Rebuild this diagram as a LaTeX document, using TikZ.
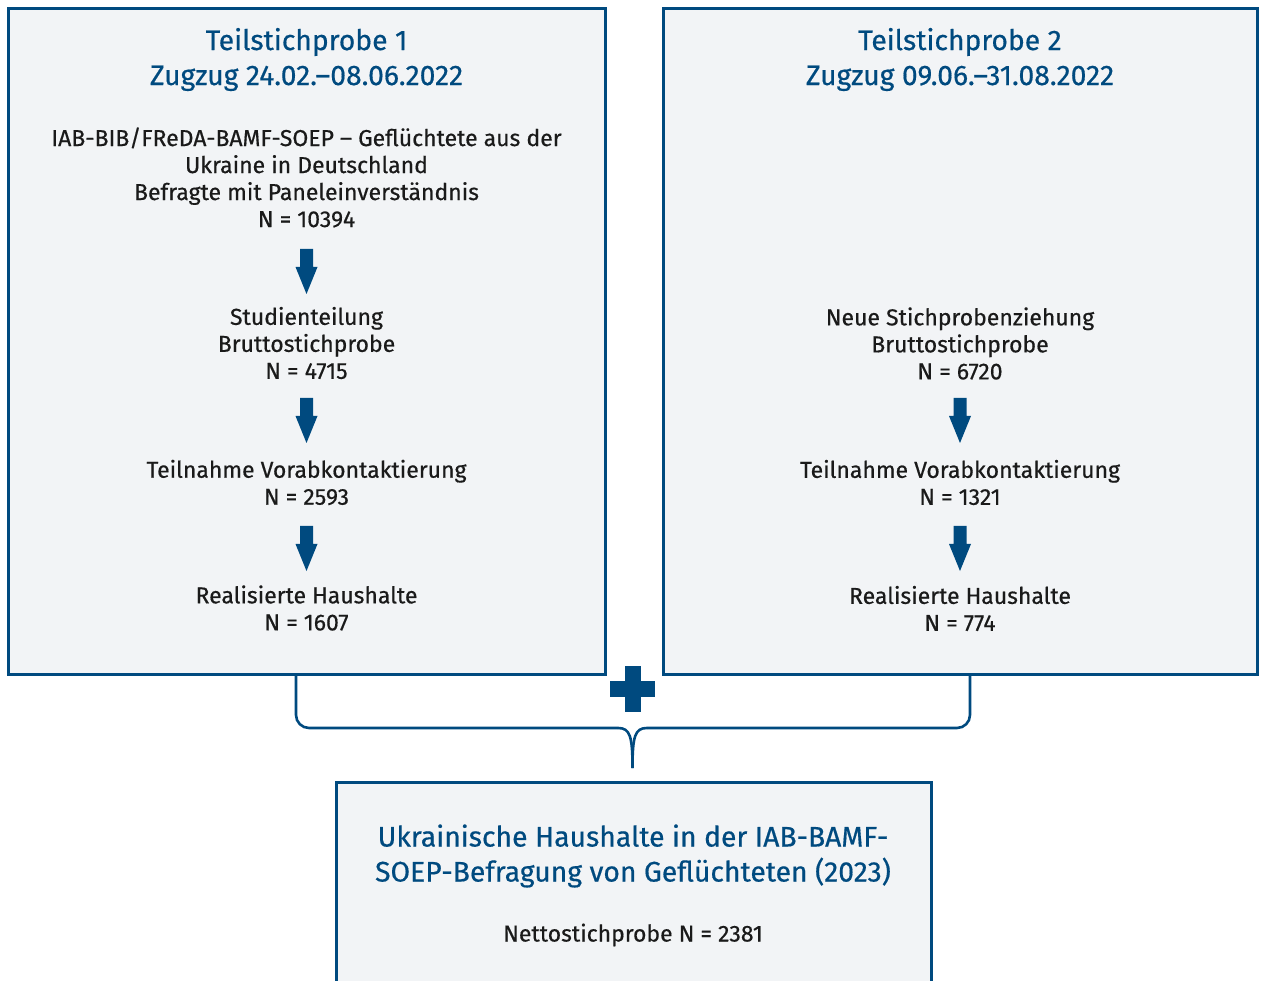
\documentclass[tikz,border=0pt]{standalone}
\usepackage{fontspec}
\setmainfont{Fira Sans}[FakeBold=0.5]
\definecolor{bmblue}{HTML}{004A7F}
\definecolor{boxfill}{HTML}{F2F4F6}
\definecolor{bodytext}{HTML}{1A1A1A}
\tikzset{
  panel/.style={draw=bmblue, line width=3pt, fill=boxfill},
  ttl/.style={text=bmblue, align=center, font=\fontsize{28.3}{35}\selectfont, inner sep=0pt},
  txt/.style={text=bodytext, align=center, font=\fontsize{23}{27}\selectfont, inner sep=0pt},
  brace/.style={draw=bmblue, line width=2.6pt, rounded corners=13pt},
}
\newcommand{\blockarrow}[1]{%
  \fill[bmblue] ($(#1)+(-6.5,0)$) -- ($(#1)+(6.5,0)$) -- ($(#1)+(6.5,18)$) -- ($(#1)+(11,18)$)
     -- ($(#1)+(0,45)$) -- ($(#1)+(-11,18)$) -- ($(#1)+(-6.5,18)$) -- cycle;}
\usetikzlibrary{calc}
\begin{document}
\begin{tikzpicture}[x=1pt,y=-1pt]
\useasboundingbox (0,0) rectangle (1262,981);
\clip (0,0) rectangle (1262,981);
% boxes
\draw[panel] (8,9) rectangle (605,674);
\draw[panel] (663,9) rectangle (1257,674);
\draw[panel] (336,782) rectangle (931,1000);
% left texts
\node[ttl] (t1) at (306.5,59.5) {Teilstichprobe 1\\Zugzug 24.02.–08.06.2022};
\node[txt] (l1) at (306.5,177.5) {IAB-BIB/FReDA-BAMF-SOEP – Geflüchtete aus der\\Ukraine in Deutschland\\Befragte mit Paneleinverständnis\\N = 10394};
\node[txt] (l2) at (306.5,343) {Studienteilung\\Bruttostichprobe\\N = 4715};
\node[txt] (l3) at (306.5,482.5) {Teilnahme Vorabkontaktierung\\N = 2593};
\node[txt] (l4) at (306.5,608) {Realisierte Haushalte\\N = 1607};
% right texts
\node[ttl] (t2) at (960,59.5) {Teilstichprobe 2\\Zugzug 09.06.–31.08.2022};
\node[txt] (r2) at (960,343.5) {Neue Stichprobenziehung\\Bruttostichprobe\\N = 6720};
\node[txt] (r3) at (960,482.5) {Teilnahme Vorabkontaktierung\\N = 1321};
\node[txt] (r4) at (960,608.5) {Realisierte Haushalte\\N = 774};
% bottom texts
\node[ttl] (b1) at (633,856) {Ukrainische Haushalte in der IAB-BAMF-\\SOEP-Befragung von Geflüchteten (2023)};
\node[txt] (b2) at (633,935) {Nettostichprobe N = 2381};
% arrows
\coordinate (a1) at (306.5,249);
\coordinate (a2) at (306.5,398);
\coordinate (a3) at (306.5,526);
\coordinate (a4) at (960,398);
\coordinate (a5) at (960,526);
\blockarrow{a1}\blockarrow{a2}\blockarrow{a3}\blockarrow{a4}\blockarrow{a5}
% plus
\fill[bmblue] (610,681) rectangle (655,697);
\fill[bmblue] (625,666) rectangle (641,712);
% brace
\coordinate (bl) at (296,675.5);
\coordinate (br) at (970,675.5);
\coordinate (tip) at (632.5,768);
\draw[brace] (bl) -- (296,728) -- (618,728);
\draw[brace] (br) -- (970,728) -- (647,728);
\draw[bmblue, line width=2.6pt] (618,728) .. controls (630,728) and (632.5,736) .. (tip);
\draw[bmblue, line width=2.6pt] (647,728) .. controls (635,728) and (632.5,736) .. (tip);
\end{tikzpicture}
\end{document}
